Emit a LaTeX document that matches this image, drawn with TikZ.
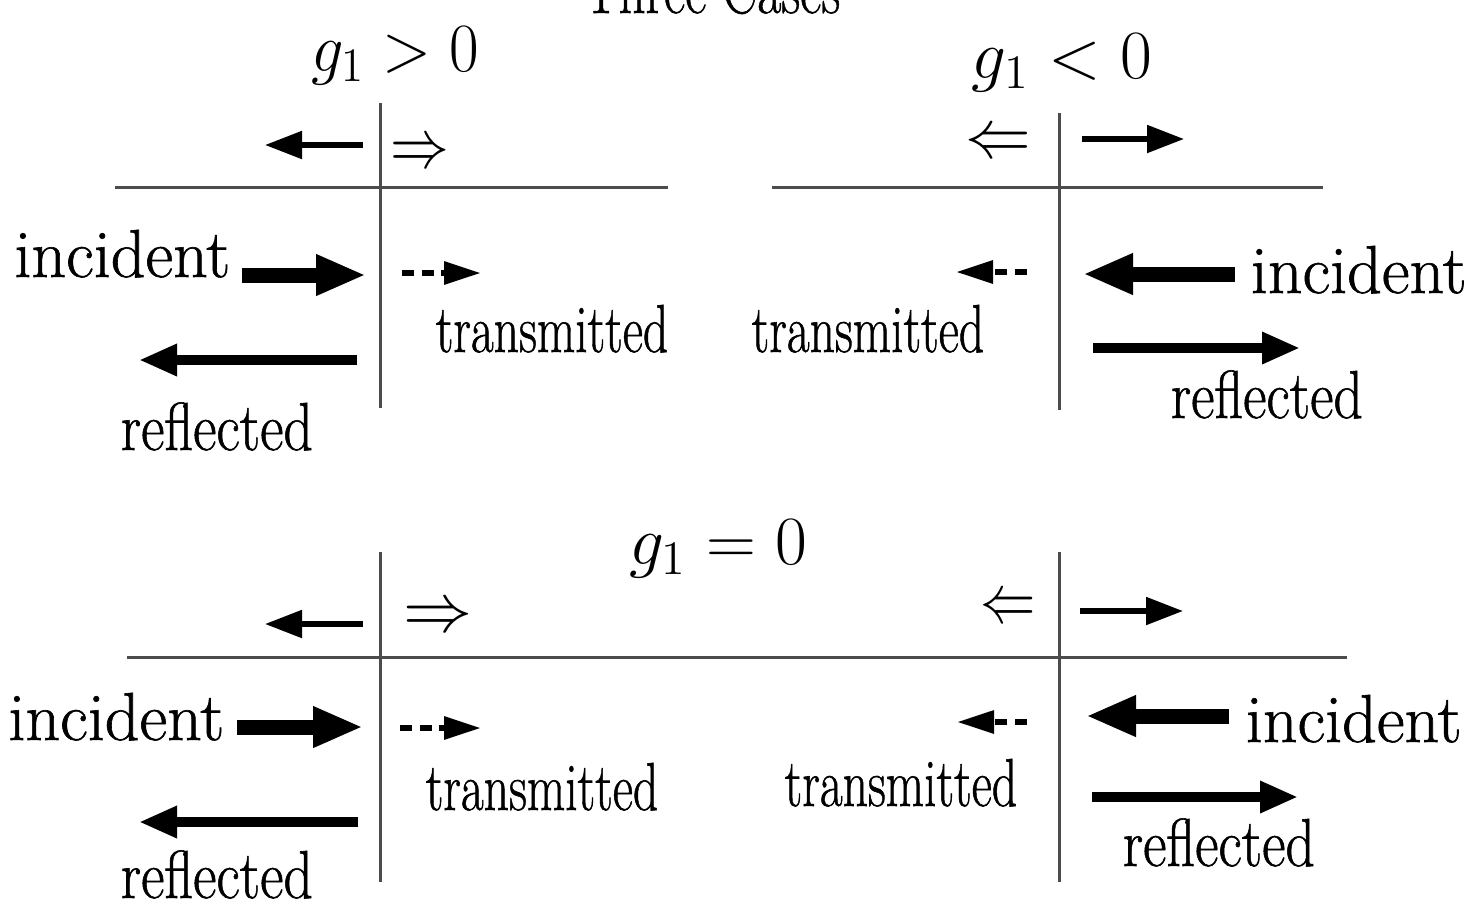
\documentclass[tikz,border=0pt]{standalone}
\usetikzlibrary{arrows.meta}
\usepackage{graphicx}
\usepackage{fontspec}
\newfontfamily\heavy{Latin Modern Roman}[FakeBold=0.9]
\newcommand{\hsq}[2]{\scalebox{#1}[1]{#2}}
\begin{document}
\begin{tikzpicture}[x=0.25pt,y=-0.25pt,
  lab/.style={inner sep=0pt, font=\fontsize{17}{20}\selectfont\heavy},
  thinln/.style={line width=0.75pt, draw=black!70},
  incarr/.style={line width=3.75pt, -{Triangle[length=12.5pt,width=9.5pt]}},
  refarr/.style={line width=2.3pt, -{Triangle[length=9.5pt,width=7.5pt]}},
  smlarr/.style={line width=1.3pt, -{Triangle[length=9.25pt,width=6.75pt]}},
  trnarr/.style={line width=1.5pt, dash pattern=on 3pt off 1.9pt, -{Triangle[length=9.25pt,width=5.5pt]}}]
\useasboundingbox (0,0) rectangle (1478,902);
\clip (0,0) rectangle (1478,902);
\fill[white] (0,0) rectangle (1478,902);

% title (cut off at top)
\node[lab, anchor=base] (title) at (712,13) {\hsq{0.77}{Three Cases}};

% ---------- top-left: g1 > 0 ----------
\node[lab, anchor=base] (gpos) at (395,71) {\hsq{0.93}{$g_1 > 0$}};
\coordinate (tlv1) at (380,103); \coordinate (tlv2) at (380,408);
\coordinate (tlh1) at (115,187); \coordinate (tlh2) at (668,187);
\draw[thinln] (tlv1) -- (tlv2);
\draw[thinln] (tlh1) -- (tlh2);
\coordinate (tls1) at (363,145); \coordinate (tls2) at (265,145);
\draw[smlarr] (tls1) -- (tls2);
\node[lab] (tlR) at (420,155) {\hsq{0.85}{$\Rightarrow$}};
\node[lab, anchor=base east] (tlinc) at (231,277) {\hsq{1.0}{incident}};
\coordinate (tli1) at (242,275); \coordinate (tli2) at (366,275);
\draw[incarr] (tli1) -- (tli2);
\coordinate (tlt1) at (402,273); \coordinate (tlt2) at (481,273);
\draw[trnarr] (tlt1) -- (tlt2);
\node[lab, anchor=base west] (tltr) at (435,352) {\hsq{0.73}{transmitted}};
\coordinate (tlr1) at (357,360); \coordinate (tlr2) at (139,360);
\draw[refarr] (tlr1) -- (tlr2);
\node[lab, anchor=base west] (tlref) at (120,450) {\hsq{0.845}{reflected}};

% ---------- top-right: g1 < 0 ----------
\node[lab, anchor=base] (gneg) at (1062,78) {\hsq{1.0}{$g_1 < 0$}};
\coordinate (trv1) at (1059,113); \coordinate (trv2) at (1059,410);
\coordinate (trh1) at (772,187); \coordinate (trh2) at (1323,187);
\draw[thinln] (trv1) -- (trv2);
\draw[thinln] (trh1) -- (trh2);
\node[lab] (trL) at (998,145) {\hsq{0.95}{$\Leftarrow$}};
\coordinate (trs1) at (1082,139); \coordinate (trs2) at (1184,139);
\draw[smlarr] (trs1) -- (trs2);
\coordinate (tri1) at (1235,274); \coordinate (tri2) at (1083,274);
\draw[incarr] (tri1) -- (tri2);
\node[lab, anchor=base west] (trinc) at (1250,293) {\hsq{1.0}{incident}};
\coordinate (trt1) at (1027,272); \coordinate (trt2) at (956,272);
\draw[trnarr] (trt1) -- (trt2);
\node[lab, anchor=base east] (trtr) at (985,352) {\hsq{0.73}{transmitted}};
\coordinate (trr1) at (1093,348); \coordinate (trr2) at (1300,348);
\draw[refarr] (trr1) -- (trr2);
\node[lab, anchor=base west] (trref) at (1170,418) {\hsq{0.845}{reflected}};

% ---------- bottom: g1 = 0 ----------
\node[lab, anchor=base] (gzero) at (718,564) {\hsq{1.0}{$g_1 = 0$}};
\coordinate (bh1) at (127,657); \coordinate (bh2) at (1347,657);
\draw[thinln] (bh1) -- (bh2);
\coordinate (blv1) at (380,552); \coordinate (blv2) at (380,882);
\coordinate (brv1) at (1059,552); \coordinate (brv2) at (1059,882);
\draw[thinln] (blv1) -- (blv2);
\draw[thinln] (brv1) -- (brv2);
% bottom-left
\coordinate (bls1) at (363,624); \coordinate (bls2) at (265,624);
\draw[smlarr] (bls1) -- (bls2);
\node[lab] (blR) at (438,619) {\hsq{1.0}{$\Rightarrow$}};
\node[lab, anchor=base east] (blinc) at (225,740) {\hsq{1.0}{incident}};
\coordinate (bli1) at (237,727); \coordinate (bli2) at (363,727);
\draw[incarr] (bli1) -- (bli2);
\coordinate (blt1) at (400,728); \coordinate (blt2) at (481,728);
\draw[trnarr] (blt1) -- (blt2);
\node[lab, anchor=base west] (bltr) at (425,810) {\hsq{0.73}{transmitted}};
\coordinate (blr1) at (358,822); \coordinate (blr2) at (139,822);
\draw[refarr] (blr1) -- (blr2);
\node[lab, anchor=base west] (blref) at (120,898) {\hsq{0.845}{reflected}};
% bottom-right
\node[lab] (brL) at (1008,610) {\hsq{0.8}{$\Leftarrow$}};
\coordinate (brs1) at (1080,611); \coordinate (brs2) at (1183,611);
\draw[smlarr] (brs1) -- (brs2);
\coordinate (bri1) at (1229,716); \coordinate (bri2) at (1086,716);
\draw[incarr] (bri1) -- (bri2);
\node[lab, anchor=base west] (brinc) at (1245,742) {\hsq{1.0}{incident}};
\coordinate (brt1) at (1027,722); \coordinate (brt2) at (957,722);
\draw[trnarr] (brt1) -- (brt2);
\node[lab, anchor=base east] (brtr) at (1018,806) {\hsq{0.73}{transmitted}};
\coordinate (brr1) at (1092,797); \coordinate (brr2) at (1298,797);
\draw[refarr] (brr1) -- (brr2);
\node[lab, anchor=base west] (brref) at (1122,866) {\hsq{0.845}{reflected}};
\end{tikzpicture}
\end{document}
